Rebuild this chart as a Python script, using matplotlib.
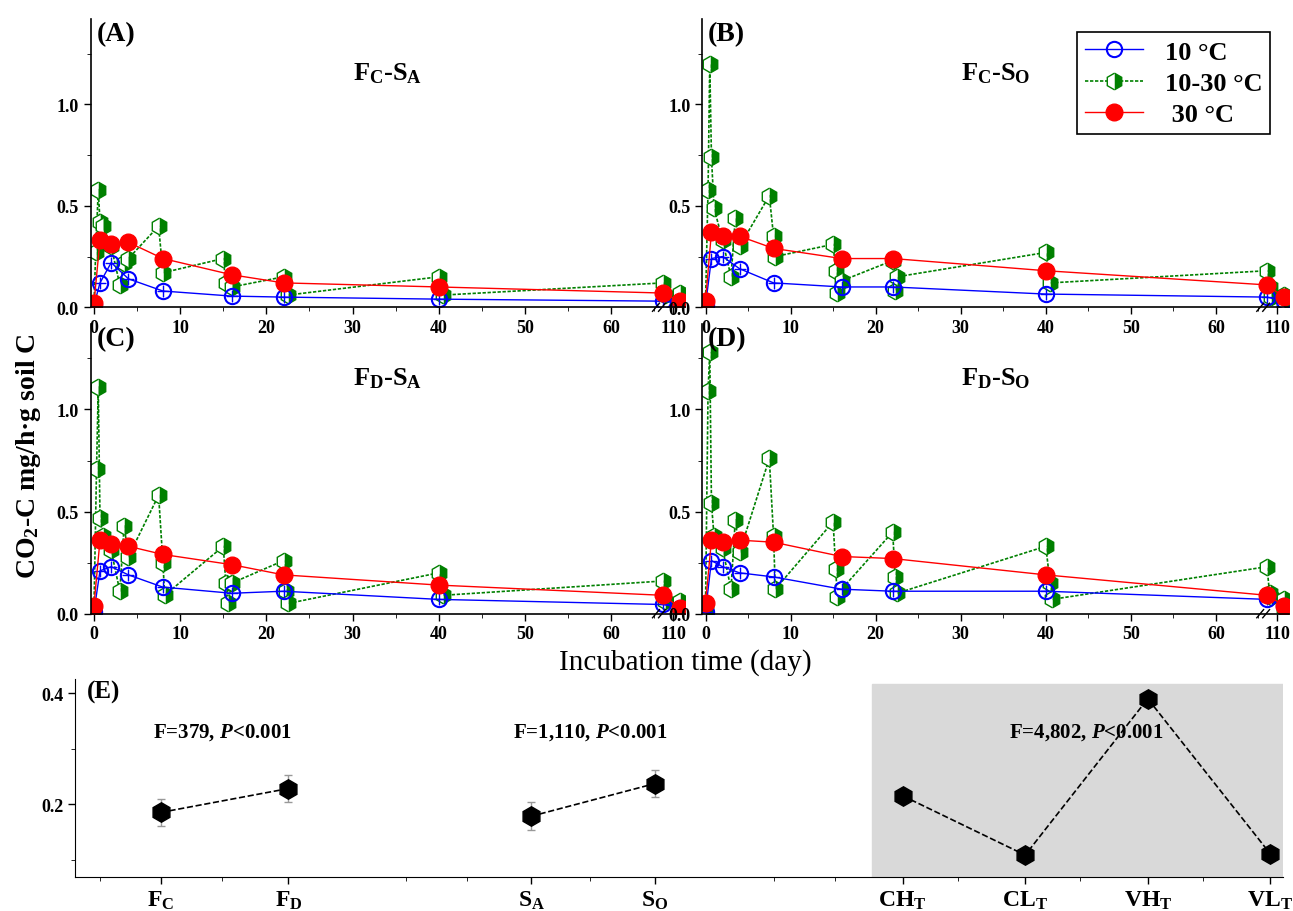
import matplotlib.pyplot as plt
import numpy as np
from matplotlib.ticker import MultipleLocator

plt.rcParams['font.family'] = ['Liberation Serif', 'DejaVu Serif']
plt.rcParams['font.weight'] = 'bold'
plt.rcParams['mathtext.fontset'] = 'custom'
plt.rcParams['mathtext.rm'] = 'Liberation Serif:bold'
plt.rcParams['mathtext.it'] = 'Liberation Serif:bold:italic'
plt.rcParams['mathtext.bf'] = 'Liberation Serif:bold'

days = [0, 0.7, 2, 4, 8, 16, 22, 40, 66, 112]

panels = {
    'A': dict(title='F$_\\mathrm{C}$-S$_\\mathrm{A}$',
              c10=[0.01, 0.12, 0.22, 0.14, 0.08, 0.055, 0.05, 0.04, 0.03, 0.02],
              c30=[0.02, 0.33, 0.31, 0.32, 0.24, 0.16, 0.12, 0.10, 0.07, 0.03],
              gd=[0, 0.2, 0.5, 0.7, 1, 2, 3, 3.5, 4, 7.5, 8, 15, 15.3, 16, 22, 22.5, 40, 40.5, 66, 66.3, 112, 112],
              gv=[0.01, 0.27, 0.58, 0.42, 0.40, 0.30, 0.11, 0.22, 0.24, 0.40, 0.17, 0.24, 0.12, 0.10, 0.15, 0.06, 0.15, 0.06, 0.12, 0.06, 0.02, 0.07]),
    'B': dict(title='F$_\\mathrm{C}$-S$_\\mathrm{O}$',
              c10=[0.01, 0.24, 0.25, 0.19, 0.12, 0.10, 0.10, 0.065, 0.05, 0.03],
              c30=[0.03, 0.37, 0.35, 0.35, 0.29, 0.24, 0.24, 0.18, 0.11, 0.05],
              gd=[0, 0.3, 0.5, 0.7, 1, 2, 3, 3.5, 4, 7.5, 8, 8.2, 15, 15.3, 15.5, 16, 22, 22.3, 22.5, 40, 40.5, 66, 66.3, 66.5, 112, 112],
              gv=[0.02, 0.58, 1.2, 0.74, 0.49, 0.33, 0.15, 0.44, 0.30, 0.55, 0.35, 0.25, 0.31, 0.18, 0.07, 0.13, 0.23, 0.08, 0.15, 0.27, 0.12, 0.18, 0.10, 0.05, 0.02, 0.06]),
    'C': dict(title='F$_\\mathrm{D}$-S$_\\mathrm{A}$',
              c10=[0.01, 0.21, 0.23, 0.19, 0.13, 0.10, 0.11, 0.07, 0.045, 0.03],
              c30=[0.04, 0.36, 0.34, 0.33, 0.29, 0.24, 0.19, 0.14, 0.09, 0.03],
              gd=[0, 0.3, 0.5, 0.7, 1, 2, 3, 3.5, 4, 7.5, 8, 8.2, 15, 15.3, 15.5, 16, 22, 22.3, 22.5, 40, 40.5, 66, 66.3, 112, 112],
              gv=[0.02, 0.71, 1.11, 0.47, 0.38, 0.31, 0.11, 0.43, 0.28, 0.58, 0.25, 0.09, 0.33, 0.15, 0.05, 0.15, 0.26, 0.11, 0.05, 0.20, 0.09, 0.16, 0.06, 0.02, 0.06]),
    'D': dict(title='F$_\\mathrm{D}$-S$_\\mathrm{O}$',
              c10=[0.01, 0.26, 0.23, 0.20, 0.18, 0.12, 0.11, 0.11, 0.07, 0.04],
              c30=[0.05, 0.36, 0.35, 0.36, 0.35, 0.28, 0.27, 0.19, 0.09, 0.04],
              gd=[0, 0.3, 0.5, 0.7, 1, 2, 3, 3.5, 4, 7.5, 8, 8.2, 15, 15.3, 15.5, 16, 22, 22.3, 22.5, 40, 40.5, 40.7, 66, 66.3, 66.5, 112, 112],
              gv=[0.02, 1.09, 1.28, 0.54, 0.38, 0.32, 0.12, 0.46, 0.30, 0.76, 0.38, 0.12, 0.45, 0.22, 0.08, 0.12, 0.40, 0.18, 0.10, 0.33, 0.15, 0.07, 0.23, 0.10, 0.08, 0.03, 0.07]),
}

e_labels = ['F$_\\mathrm{C}$', 'F$_\\mathrm{D}$', 'S$_\\mathrm{A}$', 'S$_\\mathrm{O}$',
            'CH$_\\mathrm{T}$', 'CL$_\\mathrm{T}$', 'VH$_\\mathrm{T}$', 'VL$_\\mathrm{T}$']
e_vals = [0.185, 0.228, 0.178, 0.237, 0.215, 0.108, 0.390, 0.110]
e_err = [0.025, 0.025, 0.025, 0.025, 0.010, 0.006, 0.008, 0.006]
e_pos = [0.7, 1.74, 3.72, 4.73, 6.75, 7.75, 8.75, 9.75]


def xmap(d):
    d = np.asarray(d, dtype=float)
    return np.where(d > 90, 67.2 + (d - 110) * 0.4, d)


fig = plt.figure(figsize=(12.93, 9.12), dpi=100)
rects = {'A': [0.070, 0.662, 0.460, 0.316], 'B': [0.543, 0.662, 0.454, 0.316],
         'C': [0.070, 0.326, 0.460, 0.318], 'D': [0.543, 0.326, 0.454, 0.318]}

for key, p in panels.items():
    ax = fig.add_axes(rects[key])
    ax.set_facecolor('none')
    ax.plot(xmap(p['gd']), p['gv'], ':', color='green', lw=1.2, marker='h', ms=12,
            fillstyle='right', markerfacecolor='green', markerfacecoloralt='white',
            markeredgecolor='green', markeredgewidth=1, dashes=(2, 1), label='10-30 °C')
    ax.plot(xmap(days), p['c10'], '-', color='blue', lw=1, marker='o', ms=11,
            mfc='none', mec='blue', mew=1.5, label='10 °C')
    ax.plot(xmap(days), p['c10'], 'none', marker='+', ms=8, mec='blue', mew=1)
    ax.plot(xmap(days), p['c30'], '-', color='red', lw=1, marker='o', ms=12,
            mfc='red', mec='red', label='30 °C')
    ax.set_xlim(-0.4, 68.6)
    ax.set_ylim(0, 1.42)
    ax.set_xticks([0, 10, 20, 30, 40, 50, 60, 67.2])
    ax.set_xticklabels(['0', '10', '20', '30', '40', '50', '60', '110'])
    ax.xaxis.set_minor_locator(MultipleLocator(5))
    ax.set_yticks([0, 0.5, 1.0])
    ax.set_yticklabels(['0.0', '0.5', '1.0'])
    ax.yaxis.set_minor_locator(MultipleLocator(0.25))
    ax.tick_params(labelsize=13, width=1, length=5)
    ax.tick_params(which='minor', length=3)
    for s in ['top', 'right']:
        ax.spines[s].set_visible(False)
    for s in ['left', 'bottom']:
        ax.spines[s].set_linewidth(1.2)
    for dx in (65.2, 65.9):
        ax.plot([dx - 0.4, dx + 0.4], [-0.02, 0.02], color='black', lw=1, clip_on=False)
    ax.text(0.01, 0.95, '(%s)' % key, transform=ax.transAxes, fontsize=20, va='center')
    ax.text(0.5, 0.79, p['title'], transform=ax.transAxes, fontsize=19, ha='center')
    if key == 'B':
        h, l = ax.get_legend_handles_labels()
        leg = ax.legend([h[1], h[0], h[2]], ['10 °C', '10-30 °C', ' 30 °C'],
                        loc='upper right', bbox_to_anchor=(0.99, 1.0), fontsize=19,
                        fancybox=False, edgecolor='black', framealpha=1,
                        handlelength=2.2, borderpad=0.3, labelspacing=0.3)
        leg.get_frame().set_linewidth(1.2)

fig.text(0.022, 0.5, 'CO$_2$-C mg/h·g soil C', rotation=90, va='center', ha='center', fontsize=20)
fig.text(0.53, 0.273, 'Incubation time (day)', ha='center', va='center', fontsize=21, fontweight='normal')

axE = fig.add_axes([0.058, 0.037, 0.934, 0.217])
axE.axvspan(6.5, 9.85, ymin=0, ymax=0.975, color='#d9d9d9', zorder=0)
for seg in ([0, 1], [2, 3], [4, 5, 6, 7]):
    xs = [e_pos[i] for i in seg]
    ys = [e_vals[i] for i in seg]
    es = [e_err[i] for i in seg]
    axE.errorbar(xs, ys, yerr=es, fmt='h', ls='--', color='black', ms=14, lw=1.2,
                 ecolor='#999999', elinewidth=1, capsize=3)
axE.set_xlim(0, 9.85)
axE.set_ylim(0.068, 0.425)
axE.set_yticks([0.2, 0.4])
axE.yaxis.set_minor_locator(MultipleLocator(0.1))
axE.set_xticks(e_pos)
axE.set_xticklabels(e_labels)
axE.set_xticks([0.2, 1.2, 2.7, 3.2, 4.2, 5.7, 6.2, 7.2, 8.2, 9.2], minor=True)
axE.tick_params(labelsize=17, width=1, length=5)
axE.tick_params(axis='y', labelsize=13)
axE.tick_params(which='minor', length=3)
for s in ['top', 'right']:
    axE.spines[s].set_visible(False)
axE.text(0.01, 0.94, '(E)', transform=axE.transAxes, fontsize=18, va='center')
axE.text(1.2, 0.322, 'F=379, $P$<0.001', ha='center', fontsize=15)
axE.text(4.2, 0.322, 'F=1,110, $P$<0.001', ha='center', fontsize=15)
axE.text(8.25, 0.322, 'F=4,802, $P$<0.001', ha='center', fontsize=15)

fig.savefig('out.png', dpi=100)
